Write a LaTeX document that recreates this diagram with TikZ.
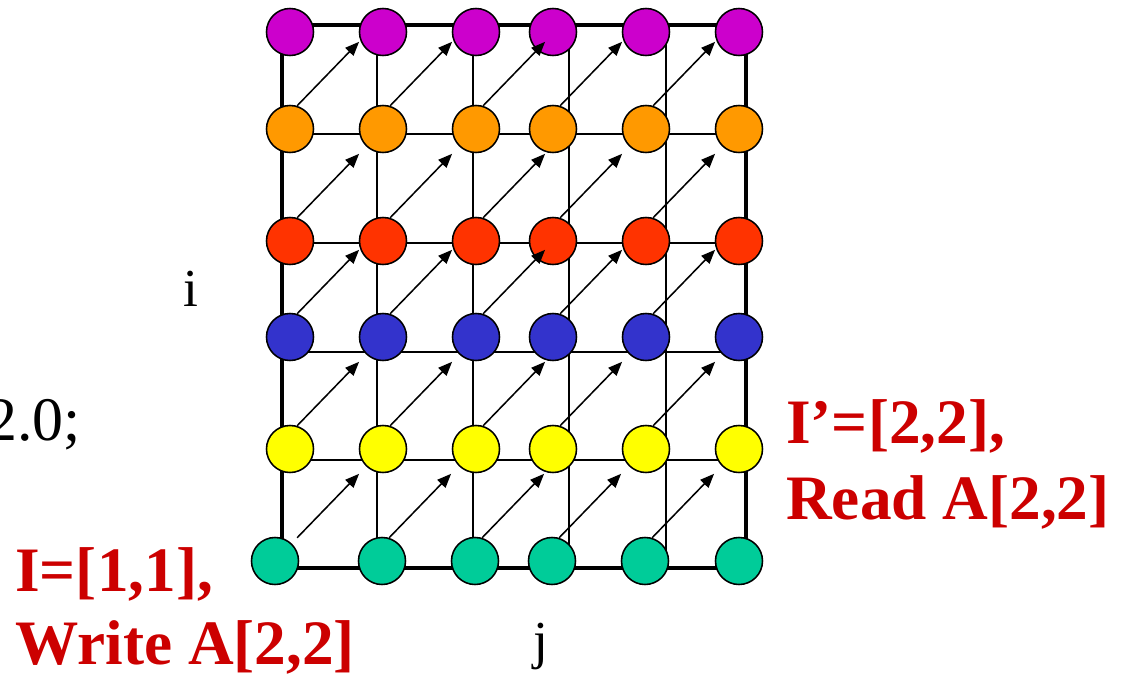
\documentclass[tikz,border=0pt]{standalone}
\usepackage{fontspec}
\setmainfont{Liberation Serif}
\usetikzlibrary{arrows.meta}
\definecolor{topdot}{HTML}{CC00CC}
\definecolor{orangedot}{HTML}{FF9900}
\definecolor{reddot}{HTML}{FF3300}
\definecolor{bluedot}{HTML}{3333CC}
\definecolor{yellowdot}{HTML}{FFFF00}
\definecolor{greendot}{HTML}{00CC99}
\definecolor{labelred}{HTML}{CC0000}

\begin{document}
\begin{tikzpicture}[x=0.025cm, y=-0.025cm,
  dot/.style={circle, draw, line width=1.1pt, minimum size=1.175cm, inner sep=0pt, fill=#1},
  gridline/.style={line width=1.5pt},
  frame/.style={line width=3pt},
  flow/.style={-{Triangle[length=10pt,width=8pt]}, line width=1.1pt},
  redlabel/.style={text=labelred, font=\fontsize{45}{54}\selectfont\bfseries, anchor=base west, inner sep=0pt},
  axislabel/.style={font=\fontsize{38}{46}\selectfont, anchor=base, inner sep=0pt}]
\useasboundingbox (0,0) rectangle (1127,678);
\clip (0,0) rectangle (1127,678);
\draw[frame] (282,25) rectangle (746,568);
\foreach \gy in {134,243,352,460} \draw[gridline] (282,\gy) -- (746,\gy);
\foreach \gx in {377,473,569,666} \draw[gridline] (\gx,25) -- (\gx,568);
\foreach \r/\gy/\fc in {0/32/topdot, 1/129/orangedot, 2/241/reddot, 3/337/bluedot, 4/449/yellowdot}
  \foreach \c/\gx in {0/290, 1/383, 2/476, 3/553, 4/646, 5/739}
    \node[dot=\fc] (c\r\c) at (\gx,\gy) {};
\foreach \c/\gx in {0/275, 1/382, 2/475, 3/552, 4/645, 5/739}
  \node[dot=greendot] (c5\c) at (\gx,561) {};
\foreach \r in {1,...,4}
  \foreach \c in {0,...,4}
    \draw[flow] (c\r\c.73) -- ++(62,-64);
\foreach \c in {1,...,4}
  \draw[flow] (c5\c.73) -- ++(62,-64);
\draw[flow] (c40.73 |- c50.73) -- ++(62,-64);
\node[axislabel] (ilabel) at (191,306) {i};
\node[axislabel] (jlabel) at (541,658) {j};
\node[font=\fontsize{44}{52}\selectfont, anchor=base east, inner sep=0pt] (value) at (81,440) {2.0;};
\node[redlabel] (writeidx) at (15,591) {I=[1,1],};
\node[redlabel] (writecell) at (15,664) {Write A[2,2]};
\node[redlabel] (readidx) at (786,443) {I’=[2,2],};
\node[redlabel] (readcell) at (786,519) {Read A[2,2]};
\end{tikzpicture}
\end{document}
